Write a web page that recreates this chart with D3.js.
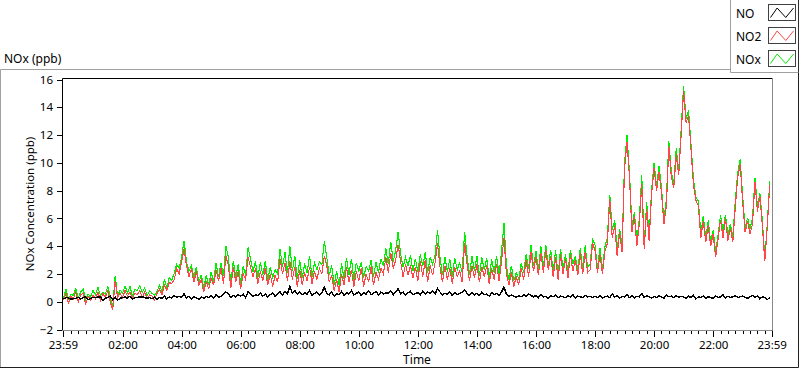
<!DOCTYPE html>
<html>
<head>
<meta charset="utf-8">
<script src="https://cdn.jsdelivr.net/npm/d3@7"></script>
<style>
  body { margin: 0; background: #fff; }
  svg { display: block; font-family: "Noto Sans", "Segoe UI", sans-serif; }
</style>
</head>
<body>
<div id="wrapper"></div>
<script>
// logger samples every 5 minutes, starting 00:00
const stepMinutes = 5
const seriesNames = ["NO", "NO2", "NOx"]
const seriesColors = ["#000000", "#ff4545", "#00ee00"]
const yTickValues = [-2, 0, 2, 4, 6, 8, 10, 12, 14, 16]
const majorTickHours = [2, 4, 6, 8, 10, 12, 14, 16, 18, 20, 22]

// NO (ppb), one row = one hour
const no = [
  0.2, 0.3, 0.3, 0.15, 0.25, 0.25, 0.3, 0.2, 0.3, 0.35, 0.15, 0.25,
  0.3, 0.3, 0.35, 0.35, 0.1, 0.25, 0.3, 0.4, 0.15, 0.35, 0.1, 0.25,
  0.3, 0.35, 0.25, 0.4, 0.2, 0.3, 0.3, 0.35, 0.35, 0.3, 0.25, 0.3,
  0.2, 0.35, 0.15, 0.3, 0.25, 0.4, 0.2, 0.35, 0.25, 0.45, 0.3, 0.4,
  0.3, 0.6, 0.25, 0.4, 0.2, 0.35, 0.3, 0.15, 0.35, 0.25, 0.4, 0.3,
  0.45, 0.25, 0.5, 0.3, 0.4, 0.55, 0.7, 0.6, 0.3, 0.45, 0.35, 0.5,
  0.4, 0.55, 0.3, 0.7, 0.6, 0.35, 0.5, 0.45, 0.65, 0.4, 0.55, 0.35,
  0.5, 0.65, 0.4, 0.6, 0.7, 0.5, 0.75, 0.55, 1.1, 0.6, 0.8, 0.55,
  0.7, 0.5, 0.65, 0.55, 0.8, 0.45, 0.6, 0.7, 0.5, 0.65, 1.05, 0.6,
  0.5, 0.7, 0.4, 0.6, 0.5, 0.75, 0.45, 0.65, 0.55, 0.8, 0.5, 0.6,
  0.7, 0.45, 0.65, 0.55, 0.8, 0.5, 0.6, 0.75, 0.5, 0.7, 0.55, 0.65,
  0.6, 0.8, 0.5, 0.7, 0.95, 0.55, 0.7, 0.5, 0.65, 0.75, 0.5, 0.6,
  0.65, 0.5, 0.75, 0.55, 0.7, 0.6, 0.8, 0.55, 0.95, 0.7, 0.5, 0.6,
  0.55, 0.7, 0.45, 0.65, 0.5, 0.6, 0.7, 0.85, 0.6, 0.45, 0.65, 0.5,
  0.6, 0.45, 0.7, 0.5, 0.55, 0.4, 0.65, 0.5, 0.6, 0.45, 0.7, 1.05,
  0.55, 0.35, 0.5, 0.4, 0.3, 0.45, 0.35, 0.5, 0.4, 0.55, 0.45, 0.35,
  0.45, 0.3, 0.5, 0.35, 0.4, 0.25, 0.45, 0.35, 0.5, 0.3, 0.4, 0.35,
  0.3, 0.45, 0.35, 0.5, 0.25, 0.4, 0.35, 0.3, 0.45, 0.35, 0.4, 0.3,
  0.4, 0.3, 0.45, 0.25, 0.35, 0.4, 0.3, 0.55, 0.35, 0.45, 0.25, 0.4,
  0.35, 0.5, 0.3, 0.45, 0.25, 0.4, 0.35, 0.6, 0.3, 0.45, 0.35, 0.25,
  0.4, 0.3, 0.45, 0.35, 0.25, 0.5, 0.35, 0.4, 0.3, 0.45, 0.3, 0.4,
  0.35, 0.25, 0.4, 0.3, 0.45, 0.2, 0.35, 0.3, 0.4, 0.25, 0.35, 0.3,
  0.25, 0.4, 0.3, 0.35, 0.5, 0.25, 0.4, 0.3, 0.35, 0.45, 0.3, 0.35,
  0.4, 0.3, 0.25, 0.35, 0.45, 0.3, 0.4, 0.2, 0.35, 0.3, 0.15, 0.3
]

// NO2 (ppb)
const no2 = [
  0.1, 0.6, -0.1, 0.4, 0.2, 0.7, 0.0, 0.5, 0.6, -0.2, 0.4, 0.1,
  0.5, 0.2, 0.7, 0.1, 0.6, 0.3, 0.8, 0.0, -0.6, 1.5, 0.3, 0.6,
  0.3, 0.8, 0.4, 0.7, 0.2, 0.6, 0.5, 0.8, 0.3, 0.7, 0.2, 0.5,
  0.4, 0.1, 0.6, 0.9, 0.5, 1.2, 0.8, 1.4, 1.3, 1.6, 2.4, 2.0,
  2.9, 3.8, 2.6, 1.8, 2.4, 1.4, 2.2, 1.2, 1.6, 0.7, 1.5, 0.9,
  1.7, 1.2, 2.3, 1.5, 2.4, 1.3, 3.3, 2.6, 1.0, 2.5, 1.4, 2.2,
  0.9, 2.0, 1.6, 3.2, 2.5, 1.8, 2.4, 1.3, 2.2, 1.5, 2.4, 1.2,
  2.0, 1.1, 1.9, 1.4, 3.1, 2.0, 2.8, 1.5, 2.9, 1.6, 2.5, 1.1,
  2.3, 1.2, 2.1, 1.5, 2.5, 1.3, 2.2, 1.6, 2.4, 2.0, 3.3, 2.6,
  1.4, 1.9, 0.8, 1.6, 0.7, 2.0, 1.2, 2.5, 1.4, 2.3, 1.1, 2.2,
  1.5, 2.4, 1.1, 2.0, 1.4, 2.5, 1.2, 2.1, 1.6, 2.4, 2.0, 3.2,
  2.1, 3.5, 2.4, 3.0, 4.1, 2.9, 1.8, 2.7, 1.9, 2.6, 1.7, 2.5,
  1.5, 2.9, 1.8, 3.0, 1.4, 2.6, 1.9, 2.8, 4.2, 2.5, 1.4, 2.6,
  1.6, 2.4, 1.3, 2.5, 1.8, 2.2, 1.4, 4.2, 2.7, 1.5, 2.6, 1.7,
  2.7, 1.4, 2.5, 1.8, 2.6, 1.3, 2.4, 1.6, 2.7, 1.5, 2.9, 4.6,
  2.0, 1.2, 2.1, 1.1, 1.8, 1.2, 2.4, 1.6, 3.0, 1.8, 3.6, 2.2,
  3.2, 1.9, 3.5, 2.1, 3.7, 2.3, 3.3, 1.8, 3.2, 1.6, 3.4, 2.0,
  3.1, 1.7, 3.4, 2.2, 3.0, 1.9, 3.5, 2.0, 3.6, 2.1, 2.3, 4.2,
  3.7, 2.1, 3.4, 2.0, 3.6, 4.2, 7.4, 4.6, 5.5, 3.3, 5.0, 3.6,
  9.6, 11.5, 9.0, 5.0, 6.2, 4.0, 5.6, 8.5, 3.8, 6.7, 4.4, 7.8,
  9.6, 8.0, 9.3, 7.9, 5.6, 6.9, 11.2, 9.0, 8.2, 10.6, 9.1, 12.0,
  15.2, 12.9, 13.4, 11.0, 8.4, 7.3, 6.9, 4.6, 5.8, 4.3, 5.5, 4.0,
  4.9, 3.2, 4.5, 5.9, 4.6, 6.0, 4.4, 5.3, 4.3, 6.8, 9.0, 9.9,
  7.2, 5.0, 5.8, 4.9, 5.6, 8.6, 6.5, 7.6, 5.5, 2.9, 5.4, 8.4
]

// NOx (ppb)
const nox = [
  0.3, 0.9, 0.2, 0.55, 0.45, 0.95, 0.3, 0.7, 0.9, 0.15, 0.55, 0.35,
  0.8, 0.5, 1.05, 0.45, 0.7, 0.55, 1.1, 0.4, -0.45, 1.85, 0.4, 0.85,
  0.6, 1.15, 0.65, 1.1, 0.4, 0.9, 0.8, 1.15, 0.65, 1.0, 0.45, 0.8,
  0.6, 0.45, 0.75, 1.2, 0.75, 1.6, 1.0, 1.75, 1.55, 2.05, 2.7, 2.4,
  3.2, 4.4, 2.85, 2.2, 2.6, 1.75, 2.5, 1.35, 1.95, 0.95, 1.9, 1.2,
  2.15, 1.45, 2.8, 1.8, 2.8, 1.85, 4.0, 3.2, 1.3, 2.95, 1.75, 2.7,
  1.3, 2.55, 1.9, 3.9, 3.1, 2.15, 2.9, 1.75, 2.85, 1.9, 2.95, 1.55,
  2.5, 1.75, 2.3, 2.0, 3.8, 2.5, 3.55, 2.05, 4.0, 2.2, 3.3, 1.65,
  3.0, 1.7, 2.75, 2.05, 3.3, 1.75, 2.8, 2.3, 2.9, 2.65, 4.35, 3.2,
  1.9, 2.6, 1.2, 2.2, 1.2, 2.75, 1.65, 3.15, 1.95, 3.1, 1.6, 2.8,
  2.2, 2.85, 1.75, 2.55, 2.2, 3.0, 1.8, 2.85, 2.1, 3.1, 2.55, 3.85,
  2.7, 4.3, 2.9, 3.7, 5.05, 3.45, 2.5, 3.2, 2.55, 3.35, 2.2, 3.1,
  2.15, 3.4, 2.55, 3.55, 2.1, 3.2, 2.7, 3.35, 5.15, 3.2, 1.9, 3.2,
  2.15, 3.1, 1.75, 3.15, 2.3, 2.8, 2.1, 5.05, 3.3, 1.95, 3.25, 2.2,
  3.3, 1.85, 3.2, 2.3, 3.15, 1.7, 3.05, 2.1, 3.3, 1.95, 3.6, 5.65,
  2.55, 1.55, 2.6, 1.5, 2.1, 1.65, 2.75, 2.1, 3.4, 2.35, 4.05, 2.55,
  3.65, 2.2, 4.0, 2.45, 4.1, 2.55, 3.75, 2.15, 3.7, 1.9, 3.8, 2.35,
  3.4, 2.15, 3.75, 2.7, 3.25, 2.3, 3.85, 2.3, 4.05, 2.45, 2.7, 4.5,
  4.1, 2.4, 3.85, 2.25, 3.95, 4.6, 7.7, 5.15, 5.85, 3.75, 5.25, 4.0,
  9.95, 12.0, 9.3, 5.45, 6.45, 4.4, 5.95, 9.1, 4.1, 7.15, 4.75, 8.05,
  10.0, 8.3, 9.75, 8.25, 5.85, 7.4, 11.55, 9.4, 8.5, 11.05, 9.4, 12.4,
  15.55, 13.15, 13.8, 11.3, 8.85, 7.5, 7.25, 4.9, 6.2, 4.55, 5.85, 4.3,
  5.15, 3.6, 4.8, 6.25, 5.1, 6.25, 4.8, 5.6, 4.65, 7.25, 9.3, 10.25,
  7.6, 5.3, 6.05, 5.25, 6.05, 8.9, 6.9, 7.8, 5.85, 3.2, 5.55, 8.7
]

// 1. Mitat
const dimensions = {
  width: 800,
  height: 369,
  plotLeft: 62,
  plotTop: 78,
  plotRight: 772,
  plotBottom: 330
}

const day = new Date(2015, 5, 10, 0, 0)
const timeAt = i => d3.timeMinute.offset(day, i * stepMinutes)
const dataset = no.map((d, i) => ({ time: timeAt(i), no: d, no2: no2[i], nox: nox[i] }))

// 2. Pohja
const svg = d3.select("#wrapper")
  .append("svg")
  .attr("width", dimensions.width)
  .attr("height", dimensions.height)

// outer frame of the graph
svg.append("path")
  .attr("d", `M0.5,368 V69.5 H731`)
  .attr("fill", "none")
  .attr("stroke", "#a0a0a0")
svg.append("path")
  .attr("d", `M0,367.5 H798.5 V70`)
  .attr("fill", "none")
  .attr("stroke", "#202020")

svg.append("text")
  .attr("x", 4)
  .attr("y", 63)
  .attr("font-size", "12px")
  .attr("fill", "#000")
  .text("NOx (ppb)")

// 3. Skaalaimet
const domainStart = d3.timeMinute.offset(day, -1)
const domainEnd = d3.timeMinute.offset(day, 1439)

const xScale = d3.scaleTime()
  .domain([domainStart, domainEnd])
  .range([63, 771.7])

const yScale = d3.scaleLinear()
  .domain([-2, 16])
  .range([329.5, 79.5])

// 4. Akselit
const majorTicks = [domainStart, ...majorTickHours.map(h => d3.timeHour.offset(day, h)), domainEnd]
const minorTicks = d3.timeMinute.every(15).range(d3.timeMinute.offset(day, 15), domainEnd)
  .filter(d => !(d.getMinutes() === 0 && d.getHours() % 2 === 0))

const xMinor = svg.append("g")
  .attr("transform", `translate(0, ${dimensions.plotBottom})`)
  .call(d3.axisBottom(xScale).tickValues(minorTicks).tickSize(4).tickFormat(""))
const xAxis = svg.append("g")
  .attr("transform", `translate(0, ${dimensions.plotBottom})`)
  .call(d3.axisBottom(xScale).tickValues(majorTicks).tickSize(7).tickPadding(4)
    .tickFormat(d3.timeFormat("%H:%M")))

const yAxis = svg.append("g")
  .attr("transform", `translate(${dimensions.plotLeft}, 0)`)
  .call(d3.axisLeft(yScale).tickValues(yTickValues).tickSize(5).tickPadding(4))

svg.selectAll(".domain").remove()
svg.selectAll(".tick line")
  .attr("stroke", "#000")
  .attr("shape-rendering", "crispEdges")
svg.selectAll(".tick text")
  .attr("font-family", "Noto Sans, sans-serif")
  .attr("font-size", "11.5px")
  .attr("fill", "#000")

svg.append("text")
  .attr("transform", `translate(34, ${(dimensions.plotTop + dimensions.plotBottom) / 2}) rotate(-90)`)
  .attr("text-anchor", "middle")
  .attr("font-size", "11.5px")
  .attr("fill", "#000")
  .text("NOx Concentration (ppb)")

svg.append("text")
  .attr("x", (dimensions.plotLeft + dimensions.plotRight) / 2)
  .attr("y", 364)
  .attr("text-anchor", "middle")
  .attr("font-size", "12px")
  .attr("fill", "#000")
  .text("Time")

// 5. Datan piirto
svg.append("clipPath")
  .attr("id", "plot-clip")
  .append("rect")
  .attr("x", dimensions.plotLeft + 1)
  .attr("y", dimensions.plotTop + 1)
  .attr("width", dimensions.plotRight - dimensions.plotLeft - 1)
  .attr("height", dimensions.plotBottom - dimensions.plotTop - 1)

const plot = svg.append("g").attr("clip-path", "url(#plot-clip)")

const keys = ["no", "no2", "nox"]
// NOx under NO2 under NO
;[2, 1, 0].forEach(k => {
  const lineGenerator = d3.line()
    .x(d => xScale(d.time))
    .y(d => yScale(d[keys[k]]))
  plot.append("path")
    .attr("d", lineGenerator(dataset))
    .attr("fill", "none")
    .attr("stroke", seriesColors[k])
    .attr("stroke-width", k === 0 ? 1.4 : 1.1)
    .attr("shape-rendering", "crispEdges")
})

// plot frame
svg.append("path")
  .attr("d", `M${dimensions.plotLeft + 0.5},${dimensions.plotBottom} V${dimensions.plotTop + 0.5} H${dimensions.plotRight}`)
  .attr("fill", "none")
  .attr("stroke", "#000")
svg.append("path")
  .attr("d", `M${dimensions.plotLeft},${dimensions.plotBottom + 0.5} H${dimensions.plotRight + 0.5} V${dimensions.plotTop}`)
  .attr("fill", "none")
  .attr("stroke", "#8a8a8a")

// 6. Selite
const legend = svg.append("g")
legend.append("rect")
  .attr("x", 731).attr("y", 0).attr("width", 67).attr("height", 72)
  .attr("fill", "#fff")
legend.append("path")
  .attr("d", "M730.5,0 V72.5 H799")
  .attr("fill", "none")
  .attr("stroke", "#a0a0a0")
legend.append("path")
  .attr("d", "M798.5,0 V72.5")
  .attr("stroke", "#303030")

seriesNames.forEach((name, i) => {
  const top = 4 + i * 23
  legend.append("text")
    .attr("x", 736)
    .attr("y", top + 13.5)
    .attr("font-size", "12px")
    .attr("fill", "#000")
    .text(name)
  legend.append("rect")
    .attr("x", 768.5)
    .attr("y", top + 0.5)
    .attr("width", 27)
    .attr("height", 16)
    .attr("fill", "#fff")
    .attr("stroke", "#404040")
  const w = 27, h = 16
  legend.append("polyline")
    .attr("points", [[2, h - 3], [w * 0.32, 3.5], [w * 0.64, h - 3], [w - 2, 3.5]]
      .map(p => `${768.5 + p[0]},${top + 0.5 + p[1]}`).join(" "))
    .attr("fill", "none")
    .attr("stroke", seriesColors[i])
})
</script>
</body>
</html>
